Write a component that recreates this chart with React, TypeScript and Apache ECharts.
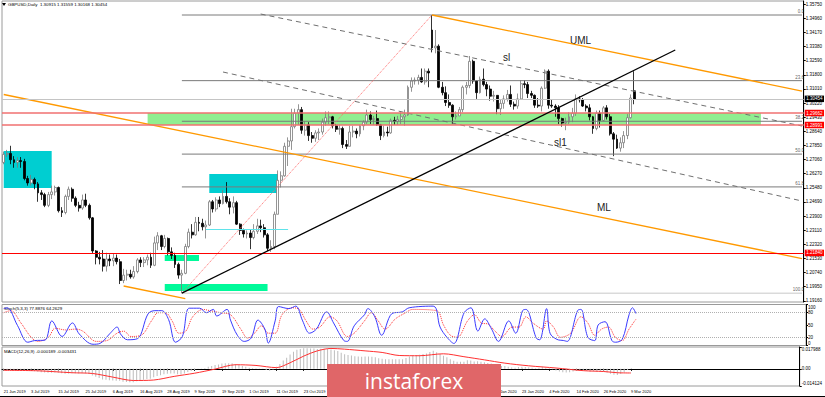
import React, { useEffect, useRef } from "react";
import * as echarts from "echarts";

// ---------- data ----------
const dateTicks = [
  "21 Jun 2019", "3 Jul 2019", "15 Jul 2019", "25 Jul 2019", "6 Aug 2019", "16 Aug 2019",
  "28 Aug 2019", "9 Sep 2019", "19 Sep 2019", "1 Oct 2019", "11 Oct 2019", "23 Oct 2019",
  "4 Nov 2019", "14 Nov 2019", "26 Nov 2019", "6 Dec 2019", "18 Dec 2019", "31 Dec 2019",
  "13 Jan 2020", "23 Jan 2020", "4 Feb 2020", "14 Feb 2020", "26 Feb 2020", "9 Mar 2020",
];
// date labels hidden under the watermark in the reference
const coveredTicks = [12, 13, 14, 15, 16, 17];
const TICK_STEP = 8;
const EMPTY_BARS = 49;

const barOpen = [
  1.2690, 1.2735, 1.2740, 1.2705, 1.2690, 1.2700, 1.2695, 1.2600, 1.2575, 1.2595,
  1.2570, 1.2520, 1.2510, 1.2450, 1.2510, 1.2525, 1.2550, 1.2420, 1.2410, 1.2500,
  1.2540, 1.2490, 1.2450, 1.2435, 1.2480, 1.2450, 1.2380, 1.2195, 1.2160, 1.2150,
  1.2110, 1.2150, 1.2140, 1.2155, 1.2135, 1.2030, 1.2060, 1.2065, 1.2050, 1.2080,
  1.2145, 1.2130, 1.2145, 1.2160, 1.2115, 1.2240, 1.2280, 1.2220, 1.2265, 1.2190,
  1.2170, 1.2120, 1.2060, 1.2070, 1.2220, 1.2300, 1.2285, 1.2355, 1.2350, 1.2330,
  1.2340, 1.2470, 1.2430, 1.2480, 1.2460, 1.2500, 1.2470, 1.2440, 1.2465, 1.2345,
  1.2310, 1.2290, 1.2295, 1.2270, 1.2305, 1.2335, 1.2325, 1.2285, 1.2210, 1.2220,
  1.2400, 1.2590, 1.2615, 1.2780, 1.2810, 1.2890, 1.2965, 1.2985, 1.2870, 1.2900,
  1.2840, 1.2825, 1.2855, 1.2860, 1.2915, 1.2940, 1.2945, 1.2895, 1.2875, 1.2880,
  1.2790, 1.2780, 1.2860, 1.2865, 1.2850, 1.2895, 1.2915, 1.2955, 1.2930, 1.2935,
  1.2900, 1.2840, 1.2860, 1.2855, 1.2925, 1.2920, 1.2930, 1.2945, 1.2955, 1.3110,
  1.3145, 1.3150, 1.3165, 1.3140, 1.3200, 1.3430, 1.3330, 1.3340, 1.3110, 1.3080,
  1.3025, 1.3010, 1.2945, 1.2950, 1.2985, 1.3110, 1.3120, 1.3255, 1.3145, 1.3080,
  1.3155, 1.3125, 1.3100, 1.3060, 1.3065, 1.2990, 1.3020, 1.3045, 1.3070, 1.3015,
  1.3005, 1.3045, 1.3130, 1.3125, 1.3075, 1.3065, 1.3010, 1.3005, 1.3105, 1.3200,
  1.3010, 1.3005, 1.2995, 1.2935, 1.2910, 1.2915, 1.2945, 1.2965, 1.3045, 1.3040,
  1.3005, 1.2995, 1.2945, 1.2880, 1.2965, 1.2925, 1.2995, 1.2945, 1.2850, 1.2820,
  1.2770, 1.2800, 1.2840, 1.2940, 1.3090,
];
const barHigh = [
  1.2750, 1.2760, 1.2783, 1.2725, 1.2720, 1.2720, 1.2710, 1.2615, 1.2620, 1.2605,
  1.2580, 1.2535, 1.2520, 1.2525, 1.2560, 1.2560, 1.2555, 1.2440, 1.2510, 1.2555,
  1.2550, 1.2500, 1.2470, 1.2510, 1.2515, 1.2460, 1.2385, 1.2200, 1.2190, 1.2200,
  1.2185, 1.2175, 1.2180, 1.2175, 1.2150, 1.2095, 1.2090, 1.2090, 1.2110, 1.2155,
  1.2160, 1.2160, 1.2175, 1.2185, 1.2275, 1.2300, 1.2285, 1.2285, 1.2270, 1.2215,
  1.2185, 1.2130, 1.2090, 1.2235, 1.2320, 1.2345, 1.2385, 1.2385, 1.2375, 1.2365,
  1.2480, 1.2480, 1.2495, 1.2500, 1.2535, 1.2580, 1.2490, 1.2500, 1.2475, 1.2350,
  1.2320, 1.2310, 1.2315, 1.2345, 1.2375, 1.2370, 1.2345, 1.2295, 1.2255, 1.2415,
  1.2645, 1.2640, 1.2800, 1.2830, 1.2990, 1.2990, 1.3015, 1.3000, 1.2920, 1.2915,
  1.2860, 1.2870, 1.2880, 1.2935, 1.2975, 1.2975, 1.2950, 1.2905, 1.2900, 1.2890,
  1.2815, 1.2895, 1.2895, 1.2880, 1.2900, 1.2925, 1.2985, 1.2975, 1.2950, 1.2980,
  1.2905, 1.2895, 1.2890, 1.2935, 1.2945, 1.2950, 1.2970, 1.2985, 1.3120, 1.3165,
  1.3165, 1.3180, 1.3215, 1.3215, 1.3215, 1.3514, 1.3430, 1.3350, 1.3140, 1.3115,
  1.3070, 1.3015, 1.2975, 1.3000, 1.3120, 1.3140, 1.3285, 1.3265, 1.3150, 1.3170,
  1.3215, 1.3140, 1.3120, 1.3090, 1.3065, 1.3040, 1.3065, 1.3095, 1.3120, 1.3030,
  1.3075, 1.3150, 1.3150, 1.3140, 1.3090, 1.3070, 1.3050, 1.3115, 1.3210, 1.3210,
  1.3040, 1.3015, 1.3010, 1.2940, 1.2940, 1.2970, 1.2995, 1.3070, 1.3060, 1.3050,
  1.3015, 1.3015, 1.2950, 1.2980, 1.2980, 1.3005, 1.3010, 1.2960, 1.2860, 1.2845,
  1.2830, 1.2865, 1.2960, 1.3070, 1.3200,
];
const barLow = [
  1.2680, 1.2720, 1.2680, 1.2660, 1.2660, 1.2660, 1.2590, 1.2560, 1.2560, 1.2540,
  1.2470, 1.2480, 1.2440, 1.2440, 1.2485, 1.2505, 1.2410, 1.2385, 1.2400, 1.2480,
  1.2470, 1.2440, 1.2415, 1.2425, 1.2440, 1.2370, 1.2180, 1.2120, 1.2120, 1.2080,
  1.2080, 1.2110, 1.2110, 1.2120, 1.2010, 1.2015, 1.2030, 1.2040, 1.2040, 1.2070,
  1.2105, 1.2105, 1.2115, 1.2100, 1.2110, 1.2200, 1.2200, 1.2210, 1.2170, 1.2150,
  1.2100, 1.2040, 1.1959, 1.2065, 1.2210, 1.2265, 1.2280, 1.2305, 1.2310, 1.2265,
  1.2335, 1.2410, 1.2415, 1.2440, 1.2455, 1.2460, 1.2400, 1.2405, 1.2340, 1.2285,
  1.2270, 1.2265, 1.2205, 1.2260, 1.2290, 1.2300, 1.2270, 1.2195, 1.2190, 1.2205,
  1.2400, 1.2550, 1.2610, 1.2670, 1.2760, 1.2880, 1.2900, 1.2850, 1.2840, 1.2810,
  1.2800, 1.2805, 1.2815, 1.2845, 1.2895, 1.2905, 1.2880, 1.2860, 1.2845, 1.2770,
  1.2765, 1.2780, 1.2830, 1.2825, 1.2835, 1.2870, 1.2905, 1.2905, 1.2900, 1.2895,
  1.2815, 1.2830, 1.2835, 1.2850, 1.2900, 1.2900, 1.2905, 1.2895, 1.2950, 1.3085,
  1.3125, 1.3125, 1.3135, 1.3125, 1.3110, 1.3305, 1.3300, 1.3105, 1.3065, 1.3005,
  1.2995, 1.2905, 1.2930, 1.2950, 1.2970, 1.3070, 1.3105, 1.3130, 1.3045, 1.3075,
  1.3115, 1.3060, 1.3035, 1.3030, 1.2960, 1.2955, 1.2990, 1.3030, 1.3000, 1.2985,
  1.2990, 1.3045, 1.3105, 1.3050, 1.3050, 1.2995, 1.2995, 1.2975, 1.3100, 1.2990,
  1.2995, 1.2945, 1.2905, 1.2890, 1.2870, 1.2905, 1.2915, 1.2950, 1.3025, 1.3000,
  1.2975, 1.2925, 1.2850, 1.2870, 1.2885, 1.2920, 1.2930, 1.2840, 1.2725, 1.2765,
  1.2750, 1.2770, 1.2820, 1.2935, 1.3015,
];
const barClose = [
  1.2735, 1.2740, 1.2705, 1.2690, 1.2700, 1.2695, 1.2600, 1.2575, 1.2595, 1.2570,
  1.2520, 1.2510, 1.2450, 1.2510, 1.2525, 1.2550, 1.2420, 1.2410, 1.2500, 1.2540,
  1.2490, 1.2450, 1.2435, 1.2480, 1.2450, 1.2380, 1.2195, 1.2160, 1.2150, 1.2110,
  1.2150, 1.2140, 1.2155, 1.2135, 1.2030, 1.2060, 1.2065, 1.2050, 1.2080, 1.2145,
  1.2130, 1.2145, 1.2160, 1.2115, 1.2240, 1.2280, 1.2220, 1.2265, 1.2190, 1.2170,
  1.2120, 1.2060, 1.2070, 1.2220, 1.2300, 1.2285, 1.2355, 1.2350, 1.2330, 1.2340,
  1.2470, 1.2430, 1.2480, 1.2460, 1.2500, 1.2470, 1.2440, 1.2465, 1.2345, 1.2310,
  1.2290, 1.2295, 1.2270, 1.2305, 1.2335, 1.2325, 1.2285, 1.2210, 1.2220, 1.2400,
  1.2590, 1.2615, 1.2780, 1.2810, 1.2890, 1.2965, 1.2985, 1.2870, 1.2900, 1.2840,
  1.2825, 1.2855, 1.2860, 1.2915, 1.2940, 1.2945, 1.2895, 1.2875, 1.2880, 1.2790,
  1.2780, 1.2860, 1.2865, 1.2850, 1.2895, 1.2915, 1.2955, 1.2930, 1.2935, 1.2900,
  1.2840, 1.2860, 1.2855, 1.2925, 1.2920, 1.2930, 1.2945, 1.2955, 1.3110, 1.3145,
  1.3150, 1.3165, 1.3140, 1.3200, 1.3190, 1.3330, 1.3340, 1.3110, 1.3080, 1.3025,
  1.3010, 1.2945, 1.2950, 1.2985, 1.3110, 1.3120, 1.3255, 1.3145, 1.3080, 1.3155,
  1.3125, 1.3100, 1.3060, 1.3065, 1.2990, 1.3020, 1.3045, 1.3070, 1.3015, 1.3005,
  1.3045, 1.3130, 1.3125, 1.3075, 1.3065, 1.3010, 1.3005, 1.3105, 1.3200, 1.3010,
  1.3005, 1.2995, 1.2935, 1.2910, 1.2915, 1.2945, 1.2965, 1.3045, 1.3040, 1.3005,
  1.2995, 1.2945, 1.2880, 1.2965, 1.2925, 1.2995, 1.2945, 1.2850, 1.2820, 1.2770,
  1.2800, 1.2840, 1.2940, 1.3050, 1.3045,
];

const priceTicks = [
  1.3575, 1.3496, 1.3417, 1.3338, 1.3259, 1.318, 1.3101, 1.3022, 1.2943, 1.2864, 1.2785,
  1.2706, 1.2627, 1.2548, 1.2469, 1.239, 1.2311, 1.2232, 1.2153, 1.2074, 1.1995, 1.1916,
];
const PRICE_MIN = 1.19097;
const PRICE_MAX = 1.35923;

const bidPrice = 1.30454;
const zoneTop = 1.29662;
const zoneBottom = 1.28991;
const supportPrice = 1.2184;

// Fibonacci retracement (from Sep low bar 52 to Dec high bar 125)
const fibLow = 1.1959;
const fibHigh = 1.3514;
const fibLowBar = 52;
const fibHighBar = 125;
const fibLevels = [0, 23.6, 38.2, 50.0, 61.8, 100.0];

// trend / channel lines: [bar, price] end points
const umlLine = [[125, 1.3514], [233, 1.30886]];
const mlLine = [[0, 1.30696], [233, 1.21523]];
const lowerForkLine = [[35, 1.19991], [53, 1.19281]];
const blackTrend = [[52, 1.1959], [196, 1.33184]];
const slLine = [[75, 1.35196], [233, 1.28935]];
const sl1Line = [[64, 1.31954], [233, 1.24743]];

// boxes: [barFrom, barTo, priceTop, priceBottom]
const cyanBoxes = [[0, 14, 1.27538, 1.25469], [60, 80, 1.26252, 1.2519]];
const springBoxes = [[47, 57, 1.21724, 1.21389], [47, 77, 1.20103, 1.19712]];
const zoneBox = [42, 221];
const cyanLine = [[59, 1.23149], [83, 1.23149]];

// Stochastic (5,3,3) turning points: [bar, value]
const stochK = [
  [0, 90], [1, 92], [4, 49], [7, 8], [9, 12], [12, 13], [14, 60], [17, 22], [20, 55], [22, 28],
  [26, 3], [28, 5], [31, 30], [33, 45], [34, 28], [36, 14], [39, 17], [42, 77], [44, 85], [46, 85],
  [48, 63], [50, 8], [52, 22], [54, 91], [57, 91], [59, 80], [61, 88], [62, 72], [65, 88], [66, 62],
  [68, 25], [70, 10], [72, 18], [74, 62], [76, 40], [77, 6], [79, 60], [80, 95], [83, 90], [85, 96],
  [87, 60], [89, 30], [91, 40], [94, 82], [96, 55], [99, 12], [100, 10], [102, 48], [105, 75], [106, 90],
  [108, 70], [110, 25], [113, 78], [116, 82], [118, 92], [125, 96], [127, 45], [129, 20], [131, 5], [134, 80],
  [136, 92], [138, 35], [140, 65], [142, 40], [144, 10], [147, 60], [149, 30], [151, 85], [152, 88], [155, 18],
  [156, 14], [158, 90], [159, 30], [161, 15], [163, 12], [164, 10], [167, 85], [168, 88], [170, 20], [172, 12],
  [173, 50], [175, 58], [177, 12], [178, 8], [180, 15], [182, 75], [183, 92], [184, 78],
];
const stochD = [
  [0, 80], [2, 85], [5, 55], [8, 20], [10, 10], [13, 20], [15, 42], [18, 38], [21, 40], [23, 35],
  [27, 10], [30, 12], [33, 30], [35, 35], [37, 22], [40, 25], [43, 60], [45, 80], [47, 80], [49, 60],
  [51, 30], [53, 35], [55, 70], [58, 88], [60, 85], [63, 80], [66, 75], [69, 40], [71, 18], [73, 30],
  [75, 48], [77, 30], [79, 30], [81, 75], [84, 92], [86, 88], [88, 60], [90, 40], [92, 45], [95, 70],
  [97, 60], [100, 22], [102, 30], [105, 60], [107, 80], [109, 60], [111, 40], [114, 65], [117, 80], [119, 88],
  [126, 85], [128, 50], [130, 25], [132, 20], [135, 60], [137, 75], [139, 55], [141, 52], [143, 35], [145, 22],
  [148, 45], [150, 45], [152, 70], [154, 55], [157, 40], [158, 60], [160, 45], [162, 20], [165, 30], [168, 70],
  [170, 55], [172, 25], [174, 40], [176, 45], [178, 20], [180, 12], [182, 40], [184, 64],
];
const stochTicks = [0, 20, 50, 80, 100];
const stochLevels = [20, 80];

// MACD (12,26,9)
const macdHist = [
  -0.0015, -0.0013, -0.0012, -0.0012, -0.0011, -0.0011, -0.0013, -0.0016, -0.0018, -0.002,
  -0.0024, -0.0027, -0.0031, -0.0032, -0.0032, -0.0031, -0.0033, -0.0037, -0.004, -0.0038,
  -0.0037, -0.0037, -0.0038, -0.0037, -0.0037, -0.0041, -0.0054, -0.0066, -0.0076, -0.0087,
  -0.009, -0.0094, -0.0096, -0.0098, -0.0098, -0.0106, -0.0109, -0.011, -0.011, -0.0103,
  -0.0096, -0.009, -0.0083, -0.0081, -0.007, -0.0058, -0.0052, -0.0044, -0.0041, -0.0039,
  -0.0039, -0.0044, -0.0047, -0.0038, -0.0026, -0.0018, -0.0009, -0.0002, 0.0002, 0.0006,
  0.0017, 0.0023, 0.0031, 0.0036, 0.0043, 0.0046, 0.0046, 0.0047, 0.004, 0.0032,
  0.0024, 0.0018, 0.001, 0.0007, 0.0005, 0.0003, -0.0001, -0.001, -0.0016, -0.0006,
  0.0018, 0.004, 0.0068, 0.0092, 0.0118, 0.014, 0.0158, 0.0164, 0.0169, 0.017,
  0.0168, 0.0167, 0.0164, 0.0165, 0.0166, 0.0165, 0.016, 0.0153, 0.0146, 0.0133,
  0.0121, 0.0115, 0.0109, 0.0103, 0.0101, 0.01, 0.0102, 0.0101, 0.01, 0.0096,
  0.0088, 0.0083, 0.0078, 0.0079, 0.0078, 0.0078, 0.0078, 0.0078, 0.009, 0.0101,
  0.011, 0.0114, 0.0117, 0.0123, 0.0126, 0.0139, 0.0148, 0.0136, 0.0123, 0.0108,
  0.0096, 0.008, 0.0067, 0.0058, 0.0058, 0.0058, 0.007, 0.0068, 0.0061, 0.0062,
  0.0059, 0.0055, 0.0049, 0.0044, 0.0033, 0.0027, 0.0024, 0.0023, 0.0017, 0.0012,
  0.001, 0.0015, 0.0018, 0.0016, 0.0014, 0.0008, 0.0004, 0.0008, 0.0019, 0.001,
  0.0003, -0.0004, -0.0013, -0.0021, -0.0028, -0.003, -0.0029, -0.0022, -0.0017, -0.0015,
  -0.0014, -0.0016, -0.0024, -0.0022, -0.0024, -0.002, -0.0021, -0.003, -0.004, -0.0049,
  -0.005, -0.0042, -0.0028, -0.001, -0.0002,
];
const macdSignal = [
  [0, -0.0012], [10, -0.0016], [20, -0.0032], [26, -0.0038], [32, -0.0068], [38, -0.0096],
  [44, -0.0092], [50, -0.0062], [56, -0.0036], [62, -0.0002], [68, 0.0034], [74, 0.0028],
  [80, 0.001], [84, 0.005], [88, 0.0105], [92, 0.0148], [96, 0.0168], [100, 0.0162],
  [106, 0.0148], [111, 0.0135], [116, 0.011], [122, 0.0108], [129, 0.0124], [135, 0.01],
  [141, 0.0074], [147, 0.0047], [154, 0.0025], [162, 0.0007], [170, -0.0015], [176, -0.0022],
  [180, -0.0032], [184, -0.0034],
];
const MACD_MIN = -0.014124;
const MACD_MAX = 0.017988;
const macdTicks = [-0.014124, 0, 0.017988];

const mainTitle = "GBPUSD,Daily  1.30915 1.31559 1.30168 1.30454";
const stochTitle = "Stoch(5,3,3) 77.8876 64.2629";
const macdTitle = "MACD(12,26,9) -0.000189 -0.003431";

// ---------- component ----------
export default function App() {
  const ref = useRef<HTMLDivElement>(null);

  useEffect(() => {
    if (!ref.current) return;
    const chart = echarts.init(ref.current, undefined, { renderer: "svg" });
    const nBars = barOpen.length;
    const nCats = nBars + EMPTY_BARS;
    const lastCat = nCats - 1;
    const cats = Array.from({ length: nCats }, (_, i) => String(i));
    const isTick = (i: number) => i % TICK_STEP === 0 && i < nBars;
    const isLabel = (i: number) => isTick(i) && coveredTicks.indexOf(i / TICK_STEP) < 0;
    const candles = barOpen.map((o, i) => [o, barClose[i], barLow[i], barHigh[i]]);
    const font = "Liberation Sans, Arial, sans-serif";

    const seg = (pts: number[][], color: string, width: number, type: any = "solid", z = 4) => ({
      type: "line",
      xAxisIndex: 0,
      yAxisIndex: 0,
      data: pts,
      symbol: "none",
      silent: true,
      z,
      lineStyle: { color, width, type },
    });

    const fibPrice = (lv: number) => fibHigh - (fibHigh - fibLow) * (lv / 100);
    const fibSeries = fibLevels.map((lv) =>
      seg([[fibLowBar, fibPrice(lv)], [lastCat, fibPrice(lv)]], lv === 100 ? "#c8c8c8" : "#7a7a7a", 1)
    );

    const priceLabel = (bg: string) => ({
      show: true,
      position: "end",
      distance: 1,
      formatter: (p: any) => Number(p.value).toFixed(5),
      backgroundColor: bg,
      color: "#fff",
      fontSize: 4.5,
      fontFamily: font,
      padding: [1, 1.5, 0.5, 1.5],
    });

    const area = (b: number[], color: string) => [
      { coord: [b[0], b[2]], itemStyle: { color } },
      { coord: [b[1], b[3]] },
    ];

    const axisText = { fontSize: 4.5, fontFamily: font, color: "#000", margin: 2 };

    const option: any = {
      animation: false,
      backgroundColor: "#ffffff",
      grid: [
        { left: 2, right: 19, top: 1, height: 301, show: true, borderColor: "#9a9a9a", borderWidth: 1 },
        { left: 2, right: 19, top: 304.5, height: 41, show: true, borderColor: "#9a9a9a", borderWidth: 1 },
        { left: 2, right: 19, top: 347, height: 39, show: true, borderColor: "#9a9a9a", borderWidth: 1 },
      ],
      xAxis: [0, 1, 2].map((g) => ({
        type: "category",
        gridIndex: g,
        data: cats,
        boundaryGap: true,
        show: g === 2,
        axisLine: { show: true, lineStyle: { color: "#000" } },
        axisTick: { show: true, alignWithLabel: true, interval: (i: number) => isTick(i), length: 2, lineStyle: { color: "#000" } },
        axisLabel: {
          show: true,
          interval: (i: number) => isLabel(i),
          formatter: (_v: string, i: number) => dateTicks[i / TICK_STEP] || "",
          fontSize: 4,
          fontFamily: font,
          color: "#000",
          align: "left",
          margin: 3,
        },
        splitLine: { show: false },
      })),
      yAxis: [
        {
          type: "value",
          gridIndex: 0,
          position: "right",
          min: PRICE_MIN,
          max: PRICE_MAX,
          axisLine: { show: true, lineStyle: { color: "#000" } },
          axisTick: { show: true, length: 2, customValues: priceTicks, lineStyle: { color: "#000" } },
          axisLabel: { ...axisText, customValues: priceTicks, formatter: (v: number) => v.toFixed(5) },
          splitLine: { show: false },
        },
        {
          type: "value",
          gridIndex: 1,
          position: "right",
          min: 0,
          max: 100,
          axisLine: { show: true, lineStyle: { color: "#000" } },
          axisTick: { show: true, length: 2, customValues: stochTicks, lineStyle: { color: "#000" } },
          axisLabel: { ...axisText, customValues: stochTicks, verticalAlignMinLabel: "bottom", verticalAlignMaxLabel: "top" },
          splitLine: { show: false },
        },
        {
          type: "value",
          gridIndex: 2,
          position: "right",
          min: MACD_MIN,
          max: MACD_MAX,
          axisLine: { show: true, lineStyle: { color: "#000" } },
          axisTick: { show: true, length: 2, customValues: macdTicks, lineStyle: { color: "#000" } },
          axisLabel: {
            ...axisText,
            customValues: macdTicks,
            verticalAlignMinLabel: "bottom",
            verticalAlignMaxLabel: "top",
            formatter: (v: number) => (v === 0 ? "0.00" : v.toFixed(6)),
          },
          splitLine: { show: false },
        },
      ],
      series: [
        // boxes underneath
        {
          type: "line",
          xAxisIndex: 0,
          yAxisIndex: 0,
          data: [],
          z: 1,
          silent: true,
          markArea: {
            silent: true,
            data: [
              area([zoneBox[0], zoneBox[1], zoneTop, zoneBottom], "#90ee90"),
              ...cyanBoxes.map((b) => area(b, "#00ced1")),
              ...springBoxes.map((b) => area(b, "#00fa9a")),
            ],
          },
        },
        ...fibSeries,
        seg([[fibLowBar, fibLow], [fibHighBar, fibHigh]], "#ff6b6b", 1, "dotted"),
        seg(cyanLine, "#5fe3ea", 1.2),
        seg(umlLine, "#ff9900", 1.3),
        seg(mlLine, "#ff9900", 1.3),
        seg(lowerForkLine, "#ff9900", 1.3),
        seg(slLine, "#707070", 1, [5, 4]),
        seg(sl1Line, "#707070", 1, [5, 4]),
        {
          type: "candlestick",
          xAxisIndex: 0,
          yAxisIndex: 0,
          data: candles,
          barWidth: 2.4,
          z: 3,
          itemStyle: { color: "#ffffff", color0: "#000000", borderColor: "#7a7a7a", borderColor0: "#000000", borderWidth: 0.8 },
          markLine: {
            silent: true,
            precision: 5,
            symbol: ["none", "none"],
            data: [
              { yAxis: bidPrice, lineStyle: { color: "#c4c4c4", type: "solid", width: 1 }, label: priceLabel("#000") },
              { yAxis: zoneTop, lineStyle: { color: "#f07070", type: "solid", width: 1.5 }, label: priceLabel("#ff0000") },
              { yAxis: zoneBottom, lineStyle: { color: "#f07070", type: "solid", width: 1.5 }, label: priceLabel("#ff0000") },
              { yAxis: supportPrice, lineStyle: { color: "#ff0000", type: "solid", width: 1.2 }, label: priceLabel("#ff0000") },
            ],
          },
        },
        seg(blackTrend, "#000000", 1.3, "solid", 5),
        {
          type: "scatter",
          xAxisIndex: 0,
          yAxisIndex: 0,
          symbolSize: 0,
          silent: true,
          z: 6,
          data: fibLevels.map((lv) => ({ value: [lastCat, fibPrice(lv)], lv })),
          label: {
            show: true,
            position: "top",
            align: "right",
            distance: 1,
            offset: [2, 0],
            formatter: (p: any) => p.data.lv.toFixed(1),
            fontSize: 4.5,
            fontFamily: font,
            color: "#333",
          },
        },
        // stochastic
        {
          type: "line",
          xAxisIndex: 1,
          yAxisIndex: 1,
          data: stochD,
          symbol: "none",
          smooth: 0.35,
          silent: true,
          lineStyle: { color: "#ff3030", width: 1, type: "dotted" },
        },
        {
          type: "line",
          xAxisIndex: 1,
          yAxisIndex: 1,
          data: stochK,
          symbol: "none",
          smooth: 0.35,
          silent: true,
          lineStyle: { color: "#3a3aff", width: 1 },
          markLine: {
            silent: true,
            precision: 2,
            symbol: ["none", "none"],
            label: { show: false },
            lineStyle: { color: "#b0b0b0", type: "dotted", width: 1 },
            data: stochLevels.map((v) => ({ yAxis: v })),
          },
        },
        // MACD
        {
          type: "bar",
          xAxisIndex: 2,
          yAxisIndex: 2,
          data: macdHist,
          barWidth: 1,
          silent: true,
          itemStyle: { color: "#bdbdbd" },
        },
        {
          type: "line",
          xAxisIndex: 2,
          yAxisIndex: 2,
          data: macdSignal,
          symbol: "none",
          smooth: 0.3,
          silent: true,
          lineStyle: { color: "#ff3030", width: 1 },
        },
      ],
      graphic: [
        { type: "polygon", shape: { points: [[2, 3], [6, 3], [4, 6]] }, style: { fill: "#000" } },
        { type: "text", x: 8, y: 2.5, style: { text: mainTitle, fontSize: 4.4, fontFamily: font, fill: "#000" } },
        { type: "text", x: 4, y: 306.5, style: { text: stochTitle, fontSize: 4.4, fontFamily: font, fill: "#000" } },
        { type: "text", x: 4, y: 349, style: { text: macdTitle, fontSize: 4.4, fontFamily: font, fill: "#000" } },
        { type: "text", x: 570, y: 35, style: { text: "UML", fontSize: 10, fontFamily: font, fill: "#222" } },
        { type: "text", x: 503, y: 52, style: { text: "sl", fontSize: 10, fontFamily: font, fill: "#222" } },
        { type: "text", x: 554, y: 137, style: { text: "sl1", fontSize: 10, fontFamily: font, fill: "#222" } },
        { type: "text", x: 597, y: 202, style: { text: "ML", fontSize: 10, fontFamily: font, fill: "#222" } },
        { type: "rect", shape: { x: 327, y: 364, width: 174, height: 33 }, style: { fill: "#e06668" }, z: 100 },
        {
          type: "text",
          x: 414,
          y: 381,
          z: 101,
          style: { text: "instaforex", fontSize: 21, fontFamily: "Open Sans, Liberation Sans, sans-serif", fill: "#ffffff", align: "center", verticalAlign: "middle" },
        },
        { type: "line", shape: { x1: 0, y1: 396.5, x2: 825, y2: 396.5 }, style: { stroke: "#000", lineWidth: 1 } },
      ],
    };

    chart.setOption(option);
    return () => chart.dispose();
  }, []);

  return <div ref={ref} style={{ position: "fixed", left: 0, top: 0, width: 825, height: 397, background: "#fff" }} />;
}
